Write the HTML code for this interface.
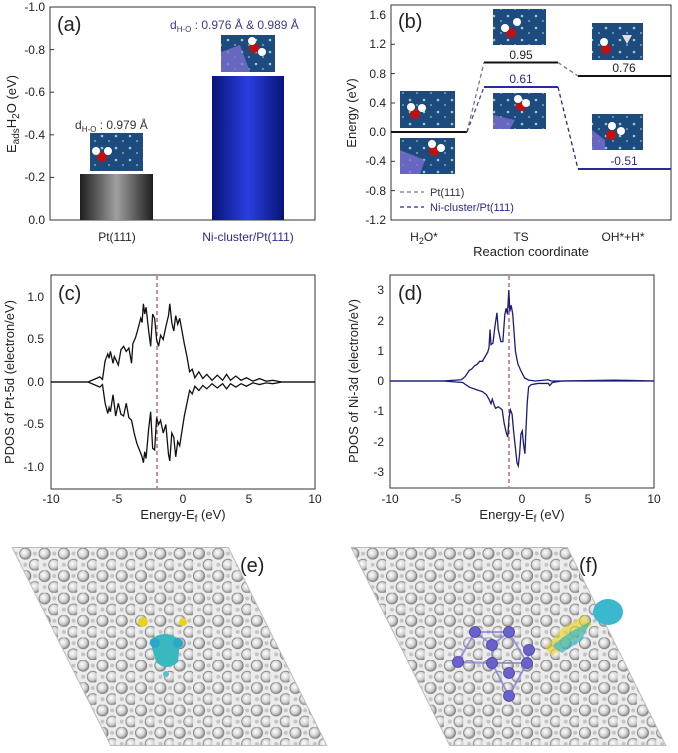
<!DOCTYPE html>
<html><head><meta charset="utf-8"><style>
html,body{margin:0;padding:0;background:#fff;}
svg{display:block;font-family:"Liberation Sans",Arial,sans-serif;}
</style></head><body>
<svg width="678" height="753" viewBox="0 0 678 753" xmlns="http://www.w3.org/2000/svg">
<defs>
<linearGradient id="gg" x1="0" x2="1" y1="0" y2="0"><stop offset="0" stop-color="#1e1e1e"/><stop offset="0.5" stop-color="#a0a0a0"/><stop offset="1" stop-color="#1e1e1e"/></linearGradient>
<linearGradient id="bg" x1="0" x2="1" y1="0" y2="0"><stop offset="0" stop-color="#081478"/><stop offset="0.5" stop-color="#2a3ee0"/><stop offset="1" stop-color="#081478"/></linearGradient>
<radialGradient id="atom" cx="0.4" cy="0.4" r="0.6"><stop offset="0" stop-color="#ffffff"/><stop offset="0.6" stop-color="#d4d4d4"/><stop offset="1" stop-color="#909090"/></radialGradient>
<pattern id="lat" x="0" y="548" width="19.3" height="22.4" patternUnits="userSpaceOnUse">
<rect width="19.3" height="22.4" fill="#ececec"/>
<circle cx="6" cy="5.6" r="5.6" fill="url(#atom)" stroke="#7a7a7a" stroke-width="0.8"/>
<circle cx="15.65" cy="16.8" r="5.6" fill="url(#atom)" stroke="#7a7a7a" stroke-width="0.8"/>
<circle cx="15.65" cy="5.6" r="2" fill="#c4c4c4"/>
<circle cx="6" cy="16.8" r="2" fill="#c4c4c4"/>
</pattern>
<pattern id="ins" width="14" height="12" patternUnits="userSpaceOnUse">
<rect width="14" height="12" fill="#1d4b7e"/><circle cx="4" cy="4" r="1.3" fill="#9cc"/><circle cx="11" cy="9" r="1" fill="#7ab"/>
</pattern>
</defs>

<!-- ===== (a) ===== -->
<rect x="50" y="7" width="265" height="213" fill="none" stroke="#333" stroke-width="1"/>
<g font-size="12" fill="#222" text-anchor="end">
<text x="45" y="11">-1.0</text><text x="45" y="54">-0.8</text><text x="45" y="96">-0.6</text><text x="45" y="139">-0.4</text><text x="45" y="181">-0.2</text><text x="45" y="224">0.0</text>
</g>
<g stroke="#333"><line x1="50" y1="49.6" x2="54" y2="49.6"/><line x1="50" y1="92.2" x2="54" y2="92.2"/><line x1="50" y1="134.8" x2="54" y2="134.8"/><line x1="50" y1="177.4" x2="54" y2="177.4"/></g>
<text transform="translate(16,114) rotate(-90)" font-size="13" text-anchor="middle" fill="#222">E<tspan font-size="10" dy="3">ads</tspan><tspan dy="-3">H</tspan><tspan font-size="10" dy="3">2</tspan><tspan dy="-3">O (eV)</tspan></text>
<rect x="80" y="174" width="73" height="46" fill="url(#gg)"/>
<rect x="212" y="76" width="72" height="144" fill="url(#bg)"/>
<text x="57" y="31" font-size="20" fill="#222">(a)</text>
<text x="75" y="129" font-size="12" fill="#333">d<tspan font-size="8" dy="3">H-O</tspan><tspan dy="-3"> : 0.979 Å</tspan></text>
<text x="170" y="29" font-size="12" fill="#3a3a8a">d<tspan font-size="8" dy="3">H-O</tspan><tspan dy="-3"> : 0.976 Å &amp; 0.989 Å</tspan></text>
<rect x="90" y="133" width="53" height="38" fill="url(#ins)"/>
<circle cx="102" cy="157" r="5" fill="#c01010"/><circle cx="96" cy="151" r="4" fill="#fff"/><circle cx="108" cy="151" r="4" fill="#fff"/>
<rect x="221" y="35" width="54" height="37" fill="url(#ins)"/>
<path d="M221 52 L240 45 L250 72 L221 72Z" fill="#7a6ed0" opacity="0.8"/>
<circle cx="254" cy="48" r="5" fill="#c01010"/><circle cx="252" cy="41" r="4" fill="#fff"/><circle cx="262" cy="52" r="4" fill="#fff"/>
<text x="117" y="241" font-size="12" text-anchor="middle" fill="#222">Pt(111)</text>
<text x="248" y="241" font-size="12" text-anchor="middle" fill="#2a2a8a">Ni-cluster/Pt(111)</text>

<!-- ===== (b) ===== -->
<rect x="391" y="5" width="280" height="215" fill="none" stroke="#333" stroke-width="1"/>
<g font-size="12" fill="#222" text-anchor="end">
<text x="386" y="19">1.6</text><text x="386" y="48">1.2</text><text x="386" y="78">0.8</text><text x="386" y="107">0.4</text><text x="386" y="136">0.0</text><text x="386" y="165">-0.4</text><text x="386" y="195">-0.8</text><text x="386" y="224">-1.2</text>
</g>
<g stroke="#333"><line x1="391" y1="44.3" x2="395" y2="44.3"/><line x1="391" y1="73.6" x2="395" y2="73.6"/><line x1="391" y1="103" x2="395" y2="103"/><line x1="391" y1="161.3" x2="395" y2="161.3"/><line x1="391" y1="190.6" x2="395" y2="190.6"/></g>
<text transform="translate(356,113) rotate(-90)" font-size="13" text-anchor="middle" fill="#222">Energy (eV)</text>
<text x="398" y="28" font-size="20" fill="#222">(b)</text>
<g stroke-width="2"><line x1="391" y1="132" x2="467" y2="132" stroke="#111"/>
<line x1="484" y1="62.5" x2="558" y2="62.5" stroke="#111"/><line x1="484" y1="87" x2="558" y2="87" stroke="#2a2a9a"/>
<line x1="578" y1="76" x2="671" y2="76" stroke="#111"/><line x1="578" y1="169" x2="671" y2="169" stroke="#2a2a9a"/></g>
<g stroke-width="1.3" stroke-dasharray="4,3" fill="none"><line x1="467" y1="132" x2="484" y2="62.5" stroke="#777"/><line x1="467" y1="132" x2="484" y2="87" stroke="#4a4a9a"/>
<line x1="558" y1="62.5" x2="578" y2="76" stroke="#777"/><line x1="558" y1="87" x2="578" y2="169" stroke="#2a2a7a"/></g>
<g font-size="12" text-anchor="middle"><text x="521" y="59" fill="#222">0.95</text><text x="521" y="83" fill="#2a2a8a">0.61</text><text x="624" y="72" fill="#222">0.76</text><text x="624" y="165" fill="#2a2a8a">-0.51</text></g>
<g>
<rect x="400" y="91" width="55" height="37" fill="url(#ins)"/><circle cx="415" cy="114" r="5" fill="#c01010"/><circle cx="411" cy="107" r="4" fill="#fff"/><circle cx="422" cy="108" r="4" fill="#fff"/>
<rect x="400" y="138" width="55" height="36" fill="url(#ins)"/><path d="M400 150 L425 160 L420 174 L400 174Z" fill="#7a6ed0" opacity="0.8"/><circle cx="434" cy="151" r="5" fill="#c01010"/><circle cx="432" cy="144" r="4" fill="#fff"/><circle cx="441" cy="148" r="4" fill="#fff"/>
<rect x="493" y="9" width="53" height="36" fill="url(#ins)"/><circle cx="511" cy="33" r="5" fill="#c01010"/><circle cx="505" cy="28" r="4" fill="#fff"/><circle cx="517" cy="22" r="4" fill="#fff"/>
<rect x="493" y="93" width="53" height="36" fill="url(#ins)"/><path d="M493 115 L515 120 L510 129 L493 129Z" fill="#7a6ed0" opacity="0.8"/><circle cx="521" cy="106" r="5" fill="#c01010"/><circle cx="518" cy="99" r="4" fill="#fff"/><circle cx="526" cy="103" r="4" fill="#fff"/>
<rect x="592" y="23" width="51" height="37" fill="url(#ins)"/><circle cx="606" cy="49" r="5" fill="#c01010"/><circle cx="604" cy="42" r="4" fill="#fff"/><polygon points="622,35 632,35 627,44" fill="#ddd"/>
<rect x="592" y="114" width="51" height="36" fill="url(#ins)"/><path d="M592 130 L605 140 L605 150 L592 150Z" fill="#7a6ed0" opacity="0.8"/><circle cx="611" cy="135" r="5" fill="#c01010"/><circle cx="612" cy="126" r="4" fill="#fff"/><circle cx="621" cy="131" r="4" fill="#fff"/>
</g>
<g stroke-width="1.2" stroke-dasharray="4,3"><line x1="400" y1="192" x2="424" y2="192" stroke="#777"/><line x1="400" y1="207" x2="424" y2="207" stroke="#2a2a7a"/></g>
<text x="430" y="196" font-size="11" fill="#333">Pt(111)</text>
<text x="430" y="211" font-size="11" fill="#2a2a8a">Ni-cluster/Pt(111)</text>
<g font-size="12" fill="#222" text-anchor="middle"><text x="424" y="241">H<tspan font-size="9" dy="3">2</tspan><tspan dy="-3">O*</tspan></text><text x="521" y="241">TS</text><text x="623" y="241">OH*+H*</text>
<text x="531" y="256" font-size="13">Reaction coordinate</text></g>

<!-- ===== (c) ===== -->
<rect x="51" y="275" width="264" height="214" fill="none" stroke="#333" stroke-width="1"/>
<g font-size="12" fill="#222" text-anchor="end"><text x="44" y="301">1.0</text><text x="44" y="343">0.5</text><text x="44" y="386">0.0</text><text x="44" y="428">-0.5</text><text x="44" y="471">-1.0</text></g>
<g font-size="12" fill="#222" text-anchor="middle"><text x="51" y="503">-10</text><text x="117" y="503">-5</text><text x="183" y="503">0</text><text x="249" y="503">5</text><text x="315" y="503">10</text>
<text x="183" y="519" font-size="13">Energy-E<tspan font-size="10" dy="3">f</tspan><tspan dy="-3"> (eV)</tspan></text></g>
<text transform="translate(14,382) rotate(-90)" font-size="13" text-anchor="middle" fill="#222">PDOS of Pt-5d (electron/eV)</text>
<text x="58" y="300" font-size="20" fill="#222">(c)</text>
<line x1="157" y1="276" x2="157" y2="488" stroke="#b04060" stroke-width="1.2" stroke-dasharray="4,3"/>
<g transform="translate(183,382) scale(13.2,-85)" fill="none" stroke="#111" stroke-width="1.3">
<polyline vector-effect="non-scaling-stroke" points="-10,0 -7.2,0 -6.6,0.04 -6.3,0.06 -6.1,0.03 -5.9,0.25 -5.7,0.33 -5.6,0.28 -5.5,0.36 -5.3,0.22 -5.2,0.3 -4.9,0.2 -4.7,0.38 -4.5,0.42 -4.3,0.36 -4.1,0.4 -3.9,0.22 -3.8,0.45 -3.6,0.52 -3.4,0.63 -3.2,0.75 -3.1,0.7 -3,0.92 -2.9,0.8 -2.8,0.88 -2.6,0.6 -2.45,0.42 -2.3,0.8 -2.15,0.75 -2,0.5 -1.85,0.42 -1.7,0.55 -1.5,0.5 -1.3,0.65 -1.1,0.78 -1,0.92 -0.85,0.7 -0.7,0.6 -0.55,0.78 -0.4,0.68 -0.25,0.75 -0.1,0.62 0.1,0.45 0.3,0.3 0.5,0.12 0.7,0.15 0.9,0.05 1.2,0.12 1.5,0.04 1.8,0.09 2.2,0.02 2.6,0.08 3,0.02 3.3,0.09 3.6,0.02 4,0.07 4.4,0.02 4.8,0.05 5.3,0.01 5.8,0.04 6.3,0.01 6.8,0.02 7.5,0 10,0"/>
<polyline vector-effect="non-scaling-stroke" points="-10,0 -7.2,0 -6.6,-0.04 -6.3,-0.06 -6.1,-0.03 -5.9,-0.25 -5.7,-0.37 -5.6,-0.3 -5.5,-0.35 -5.3,-0.15 -5.1,-0.4 -4.9,-0.25 -4.7,-0.38 -4.5,-0.4 -4.3,-0.25 -4.1,-0.42 -3.9,-0.45 -3.7,-0.6 -3.5,-0.72 -3.3,-0.8 -3.1,-0.88 -3,-0.95 -2.9,-0.82 -2.8,-0.9 -2.6,-0.55 -2.45,-0.35 -2.3,-0.78 -2.15,-0.8 -2,-0.42 -1.85,-0.5 -1.7,-0.45 -1.5,-0.6 -1.3,-0.5 -1.1,-0.85 -1,-0.93 -0.85,-0.6 -0.7,-0.65 -0.55,-0.88 -0.4,-0.7 -0.25,-0.75 -0.1,-0.6 0.1,-0.4 0.3,-0.25 0.5,-0.1 0.7,-0.14 0.9,-0.05 1.2,-0.1 1.5,-0.04 1.8,-0.08 2.2,-0.02 2.6,-0.07 3,-0.02 3.3,-0.08 3.6,-0.02 4,-0.06 4.4,-0.02 4.8,-0.05 5.3,-0.01 5.8,-0.03 6.3,-0.01 6.8,-0.02 7.5,0 10,0"/>
</g>

<!-- ===== (d) ===== -->
<rect x="390" y="275" width="264" height="213" fill="none" stroke="#333" stroke-width="1"/>
<g font-size="12" fill="#222" text-anchor="end"><text x="384" y="294">3</text><text x="384" y="325">2</text><text x="384" y="355">1</text><text x="384" y="385">0</text><text x="384" y="415">-1</text><text x="384" y="446">-2</text><text x="384" y="476">-3</text></g>
<g font-size="12" fill="#222" text-anchor="middle"><text x="390" y="503">-10</text><text x="456" y="503">-5</text><text x="522" y="503">0</text><text x="588" y="503">5</text><text x="654" y="503">10</text>
<text x="522" y="519" font-size="13">Energy-E<tspan font-size="10" dy="3">f</tspan><tspan dy="-3"> (eV)</tspan></text></g>
<text transform="translate(358,381) rotate(-90)" font-size="13" text-anchor="middle" fill="#222">PDOS of Ni-3d (electron/eV)</text>
<text x="398" y="300" font-size="20" fill="#222">(d)</text>
<line x1="509" y1="276" x2="509" y2="487" stroke="#b04060" stroke-width="1.2" stroke-dasharray="4,3"/>
<g transform="translate(522,381) scale(13.2,-30.3)" fill="none" stroke="#1a1a7a" stroke-width="1.3">
<polyline vector-effect="non-scaling-stroke" points="-10,0 -6,0 -4.6,0.04 -4.3,0.15 -4,0.35 -3.8,0.4 -3.6,0.5 -3.4,0.55 -3.2,0.65 -3,0.65 -2.8,0.8 -2.6,0.95 -2.5,1.1 -2.42,1.7 -2.35,1.2 -2.2,1.25 -2.05,1.8 -1.9,2.25 -1.8,1.7 -1.6,1.3 -1.45,1.3 -1.3,2.2 -1.2,2.4 -1.1,2.2 -1,3.0 -0.92,2.3 -0.82,2.5 -0.7,2.2 -0.6,1.6 -0.5,1.0 -0.4,0.75 -0.3,0.55 -0.1,0.35 0.2,0.1 0.5,0.03 1,0 2,0.04 2.2,0 3,0 7,0.03 10,0"/>
<polyline vector-effect="non-scaling-stroke" points="-10,0 -6,0 -4.5,-0.05 -4,-0.2 -3.5,-0.28 -3,-0.35 -2.7,-0.45 -2.5,-0.6 -2.35,-0.75 -2.25,-0.6 -2.1,-0.8 -2,-0.9 -1.8,-0.85 -1.5,-0.95 -1.35,-1.4 -1.2,-1.7 -1.08,-1.85 -0.98,-1.2 -0.88,-0.95 -0.75,-1.1 -0.65,-1.6 -0.5,-2.2 -0.38,-2.7 -0.28,-2.8 -0.18,-2.4 -0.08,-1.75 0.02,-1.65 0.12,-2.1 0.22,-2.4 0.3,-1.6 0.4,-0.7 0.5,-0.2 0.7,-0.12 1.2,-0.08 2,-0.08 2.1,-0.15 2.3,-0.05 3,0 10,0"/>
</g>

<!-- ===== (e) ===== -->
<polygon points="13,548 228,548 326,745 111,745" fill="none" stroke="#bbb" stroke-width="2"/>
<polygon points="13,548 228,548 326,745 111,745" fill="url(#lat)"/>
<text x="240" y="572" font-size="20" fill="#222">(e)</text>
<circle cx="143" cy="622" r="5" fill="#e8d420"/><circle cx="183" cy="622" r="4" fill="#e8d420"/>
<path d="M150 640 Q165 628 180 640 L178 662 Q166 672 156 662 Z" fill="#3ab8c0"/>
<circle cx="155" cy="643" r="5" fill="#2aa8c8"/><circle cx="178" cy="643" r="5" fill="#2aa8c8"/>
<circle cx="166" cy="674" r="3" fill="#5ac0c8"/>

<!-- ===== (f) ===== -->
<polygon points="352,548 567,548 665,745 450,745" fill="none" stroke="#bbb" stroke-width="2"/>
<polygon points="352,548 567,548 665,745 450,745" fill="url(#lat)"/>
<text x="579" y="572" font-size="20" fill="#222">(f)</text>
<g stroke="#8a84d8" stroke-width="2" fill="none" opacity="0.8"><polyline points="475,632 509,632 492,645 475,632"/><polyline points="458,662 492,663 527,663 509,696 492,663"/><polyline points="492,645 492,663 458,662 475,632"/><polyline points="509,632 527,663 529,652"/></g>
<g fill="#6a62cc" stroke="#4a42a0" stroke-width="0.8">
<circle cx="475" cy="632" r="5.5"/><circle cx="509" cy="632" r="5.5"/><circle cx="492" cy="645" r="5.5"/><circle cx="458" cy="662" r="5.5"/><circle cx="492" cy="663" r="5.5"/><circle cx="527" cy="663" r="5.5"/><circle cx="509" cy="673" r="5.5"/><circle cx="529" cy="650" r="5.5"/><circle cx="509" cy="696" r="5.5"/></g>
<path d="M545 648 L562 628 L585 615 L592 625 L572 640 L552 656Z" fill="#e8d420" opacity="0.6"/>
<path d="M552 646 L570 632 L590 622 L582 640 L562 653Z" fill="#3ab8c0" opacity="0.7"/>
<ellipse cx="608" cy="612" rx="15" ry="13" fill="#3ab8d0"/>
</svg>
</body></html>
